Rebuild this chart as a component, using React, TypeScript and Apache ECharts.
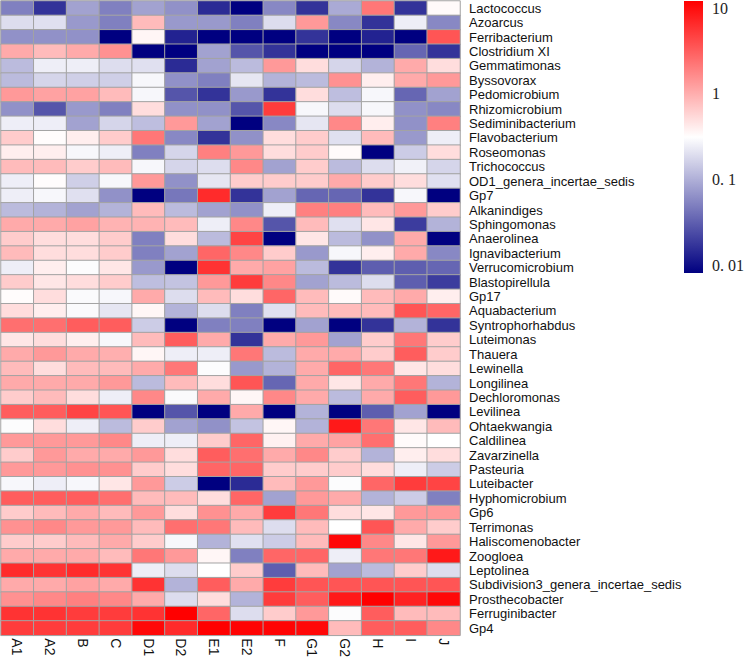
import React, { useEffect, useRef } from "react";
import * as echarts from "echarts";

// Sample columns
const samples = ["A1", "A2", "B", "C", "D1", "D2", "E1", "E2", "F", "G1", "G2", "H", "I", "J"];

// Genera (rows, top to bottom)
const genera = [
  "Lactococcus", "Azoarcus", "Ferribacterium", "Clostridium XI", "Gemmatimonas",
  "Byssovorax", "Pedomicrobium", "Rhizomicrobium", "Sediminibacterium", "Flavobacterium",
  "Roseomonas", "Trichococcus", "OD1_genera_incertae_sedis", "Gp7", "Alkanindiges",
  "Sphingomonas", "Anaerolinea", "Ignavibacterium", "Verrucomicrobium", "Blastopirellula",
  "Gp17", "Aquabacterium", "Syntrophorhabdus", "Luteimonas", "Thauera",
  "Lewinella", "Longilinea", "Dechloromonas", "Levilinea", "Ohtaekwangia",
  "Caldilinea", "Zavarzinella", "Pasteuria", "Luteibacter", "Hyphomicrobium",
  "Gp6", "Terrimonas", "Haliscomenobacter", "Zoogloea", "Leptolinea",
  "Subdivision3_genera_incertae_sedis", "Prosthecobacter", "Ferruginibacter", "Gp4",
];

// log10 of relative abundance, one row per genus, columns in sample order
const log10Abundance: number[][] = [
  [-1.25, -1.7, -1.05, -1.25, -1.05, -1.15, -1.75, -2, -1.2, -1.7, -1.0, 0.3, -1.7, -0.47],
  [-0.7, -0.68, -1.1, -1.25, -0.1, -1.1, -1.1, -1.25, -0.7, 0.1, -1.2, -1.7, -0.6, -1.2],
  [-1.15, -1.15, -1.15, -2, -0.45, -1.8, -2, -2, -2, -1.7, -2, -1.8, -2, 0.5],
  [0.0, -0.1, 0.0, 0.15, -2, -2, -1.05, -1.5, -1.7, -2, -2, -2, -1.4, -1.7],
  [-0.9, -0.6, -0.6, -0.7, -0.68, -1.75, -1.05, -0.9, 0.1, -0.3, -0.75, -0.95, 0.0, -0.3],
  [-0.9, -0.75, -0.78, -0.78, -0.55, -1.15, -1.25, -0.65, -0.95, -0.9, 0.15, -0.4, 0.0, 0.1],
  [0.1, 0.05, 0.05, -0.1, -0.55, -1.5, -1.7, -1.1, -1.7, -0.3, -0.88, -0.55, -1.4, -1.05],
  [-1.15, -1.5, -1.1, -1.25, -0.3, -1.15, -1.15, -1.5, 0.65, -0.55, -0.7, -0.55, -1.15, -1.2],
  [-0.6, -0.6, -1.05, -0.75, -0.88, 0.1, -1.05, -2, -1.2, -0.65, 0.2, -0.4, -1.15, 0.25],
  [-0.2, -0.48, -0.4, -0.2, 0.3, -1.2, -1.7, -1.15, -0.3, -0.2, -0.68, -0.1, -1.1, -0.6],
  [-0.4, -0.4, -0.55, -0.6, -1.25, -0.75, 0.25, 0.1, -0.3, -0.2, -0.47, -2, -0.8, -0.3],
  [-0.1, -0.1, -0.2, -0.1, -0.55, -0.75, -0.7, 0.2, -1.05, -0.2, -0.9, -0.7, -0.58, -0.75],
  [-0.6, -0.48, -0.78, -0.55, 0.1, -1.15, -0.65, -0.2, -0.2, -0.2, 0.0, -0.2, -0.3, -0.68],
  [-0.6, -0.55, -0.68, -1.15, -2, -1.3, 0.75, -1.7, -1.05, -1.4, -1.4, -1.7, -0.55, -2],
  [-0.9, -0.95, -1.05, -0.95, -0.1, -0.9, -1.05, -1.15, -0.6, 0.25, 0.25, -0.1, 0.1, -0.2],
  [0.0, 0.0, 0.05, -0.05, -0.05, -0.1, -0.6, 0.2, -1.5, -0.1, -0.68, -0.35, -1.65, -0.95],
  [-0.2, -0.3, -0.3, -0.2, -1.25, -0.3, -0.9, 0.6, -2, -0.35, -0.9, -1.15, 0.0, -2],
  [-0.1, -0.3, -0.3, -0.2, -1.25, -1.05, 0.4, 0.2, -0.2, -1.1, -0.55, -0.4, 0.0, -1.2],
  [-0.6, -0.4, -0.52, -0.35, -1.1, -2, 0.7, 0.0, 0.05, -0.9, -1.7, -1.45, -1.45, -1.4],
  [-0.2, -0.35, -0.3, -0.2, -0.88, -0.85, 0.1, 0.65, 0.2, -1.05, -0.9, -0.7, -1.45, -1.65],
  [-0.48, -0.3, -0.53, -0.55, 0.0, -0.7, -0.1, -0.3, 0.4, -0.1, -0.47, -0.1, 0.0, -0.4],
  [-0.3, -0.4, -0.53, -0.65, -0.45, -0.95, -0.7, -1.25, -0.68, -0.1, -0.1, -0.1, 0.5, 0.4],
  [0.35, 0.35, 0.45, 0.45, -0.8, -2, -1.25, -1.25, -2, -1.05, -2, -1.7, -0.95, -1.7],
  [-0.35, -0.3, -0.4, -0.55, -0.1, 0.45, 0.0, -1.7, 0.0, 0.1, -1.05, -0.2, 0.3, -0.2],
  [0.0, 0.1, 0.0, -0.03, -0.45, -0.6, -0.6, 0.3, -0.9, 0.0, 0.0, -0.2, 0.45, -0.2],
  [-0.1, -0.3, -0.1, -0.1, 0.0, 0.3, -0.52, -1.1, -0.95, 0.0, 0.4, 0.3, -0.35, -0.3],
  [0.0, 0.0, 0.0, 0.1, -0.9, -0.1, -0.3, 0.5, -1.4, 0.0, -0.35, 0.0, 0.3, -0.95],
  [-0.2, -0.1, -0.3, -0.6, 0.2, -0.53, 0.0, -0.45, 0.2, 0.0, -0.9, 0.0, 0.45, 0.1],
  [0.45, 0.45, 0.6, 0.5, -2, -1.5, -2, 0.0, -2, -0.95, -2, -1.45, -1.05, -2],
  [-0.52, -0.3, -0.6, -0.9, -0.2, -1.05, -1.15, -0.85, -0.45, -0.95, 0.85, 0.3, -0.35, -0.1],
  [0.1, 0.1, 0.1, 0.2, -0.6, -0.6, -0.2, 0.4, -0.42, 0.0, 0.05, 0.35, -0.47, -0.5],
  [-0.2, 0.1, 0.0, 0.0, 0.1, -0.3, 0.45, 0.35, 0.0, 0.2, -0.2, -0.95, -0.4, -0.3],
  [0.1, 0.1, 0.15, 0.15, -0.2, -0.3, 0.4, 0.4, -0.2, -0.2, -0.2, -0.3, -0.6, -0.8],
  [-0.55, -0.6, -0.55, -0.35, 0.1, -0.8, -2, -1.75, -0.1, 0.1, -0.52, 0.4, 0.65, 0.6],
  [0.45, 0.45, 0.45, 0.35, -0.1, -0.1, -0.3, 0.4, -1.05, 0.1, 0.0, -0.95, -0.8, -1.25],
  [-0.2, -0.1, 0.0, -0.1, 0.1, -0.3, 0.15, 0.0, 0.65, 0.3, -0.3, -0.35, 0.1, 0.1],
  [0.15, 0.2, 0.1, 0.1, -0.1, 0.35, 0.3, -0.1, -0.7, -0.1, -0.5, 0.5, 0.0, -0.2],
  [-0.2, -0.2, -0.1, 0.0, -0.2, -0.55, -0.95, -0.68, -0.8, -0.1, 0.95, 0.2, -0.35, 0.1],
  [0.0, 0.0, 0.0, -0.1, 0.3, 0.1, -0.45, -1.25, 0.4, 0.4, -0.6, 0.3, 0.3, 0.85],
  [0.75, 0.7, 0.75, 0.7, -0.6, -0.7, -0.5, -0.2, -1.45, -0.1, -1.05, -0.9, -0.2, -0.7],
  [0.0, 0.0, 0.05, 0.0, 0.7, -0.95, 0.45, 0.0, 0.65, 0.5, 0.5, 0.5, 0.5, 0.5],
  [0.15, 0.2, 0.25, 0.2, 0.0, -0.7, -0.3, -0.95, 0.65, 0.45, 0.85, 1.0, 0.8, 0.95],
  [0.7, 0.7, 0.65, 0.65, 0.7, 1.0, 0.4, -0.7, -0.2, 0.1, -0.52, 0.45, -0.1, -0.1],
  [0.65, 0.65, 0.65, 0.65, 0.95, 0.75, 1.0, 0.98, 0.98, 0.95, -0.1, 0.45, 0.45, 0.2],
];

// Colour scale (log10 domain) and its tick labels
const scaleMinLog = -2;
const scaleMaxLog = 1;
const scaleColors = ["#000080", "#ffffff", "#ff0000"];
const legendTicks = [10, 1, 0.1, 0.01];
const legendTickLabels = ["10", "1", "0. 1", "0. 01"];

export default function App() {
  const ref = useRef<HTMLDivElement>(null);

  useEffect(() => {
    if (!ref.current) return;
    const chart = echarts.init(ref.current, null, { renderer: "svg" });

    const data: [number, number, number][] = [];
    log10Abundance.forEach((row, r) => {
      row.forEach((v, c) => data.push([c, r, v]));
    });

    // legend layout
    const barLeft = 684;
    const barTop = 1;
    const barW = 19;
    const barH = 272;
    const labelTop = 8;
    const labelSpan = 257;

    const legendBar = {
      type: "rect",
      shape: { x: barLeft, y: barTop, width: barW, height: barH },
      style: {
        fill: new echarts.graphic.LinearGradient(0, 0, 0, 1, [
          { offset: 0, color: scaleColors[2] },
          { offset: 0.5, color: scaleColors[1] },
          { offset: 1, color: scaleColors[0] },
        ]),
      },
    };

    const legendText = legendTicks.map((t, i) => ({
      type: "text",
      x: 712,
      y: labelTop + ((scaleMaxLog - Math.log10(t)) / (scaleMaxLog - scaleMinLog)) * labelSpan,
      style: {
        text: legendTickLabels[i],
        fill: "#222",
        font: '16px "Liberation Serif", serif',
        align: "left",
        verticalAlign: "middle",
        textAlign: "left",
        textVerticalAlign: "middle",
      },
    }));

    chart.setOption({
      animation: false,
      backgroundColor: "#ffffff",
      grid: { left: 1, top: 1, width: 459, height: 638, containLabel: false },
      xAxis: {
        type: "category",
        data: samples,
        axisLine: { show: false },
        axisTick: { show: false },
        splitLine: { show: false },
        axisLabel: {
          interval: 0,
          rotate: -90,
          margin: 3,
          fontSize: 14,
          fontFamily: '"Liberation Sans", Arial, sans-serif',
          color: "#111",
        },
      },
      yAxis: {
        type: "category",
        data: genera,
        inverse: true,
        position: "right",
        axisLine: { show: false },
        axisTick: { show: false },
        splitLine: { show: false },
        axisLabel: {
          interval: 0,
          margin: 9,
          fontSize: 13,
          fontFamily: '"Liberation Sans", Arial, sans-serif',
          color: "#111",
        },
      },
      visualMap: {
        type: "continuous",
        show: false,
        min: scaleMinLog,
        max: scaleMaxLog,
        seriesIndex: 0,
        inRange: { color: scaleColors },
      },
      graphic: [legendBar, ...legendText],
      series: [
        {
          type: "heatmap",
          data,
          itemStyle: { borderColor: "#a3a3a3", borderWidth: 1 },
          emphasis: { disabled: true },
        },
      ],
    });

    return () => chart.dispose();
  }, []);

  return (
    <div
      ref={ref}
      style={{ position: "fixed", left: 0, top: 0, width: 746, height: 660, background: "#fff" }}
    />
  );
}
